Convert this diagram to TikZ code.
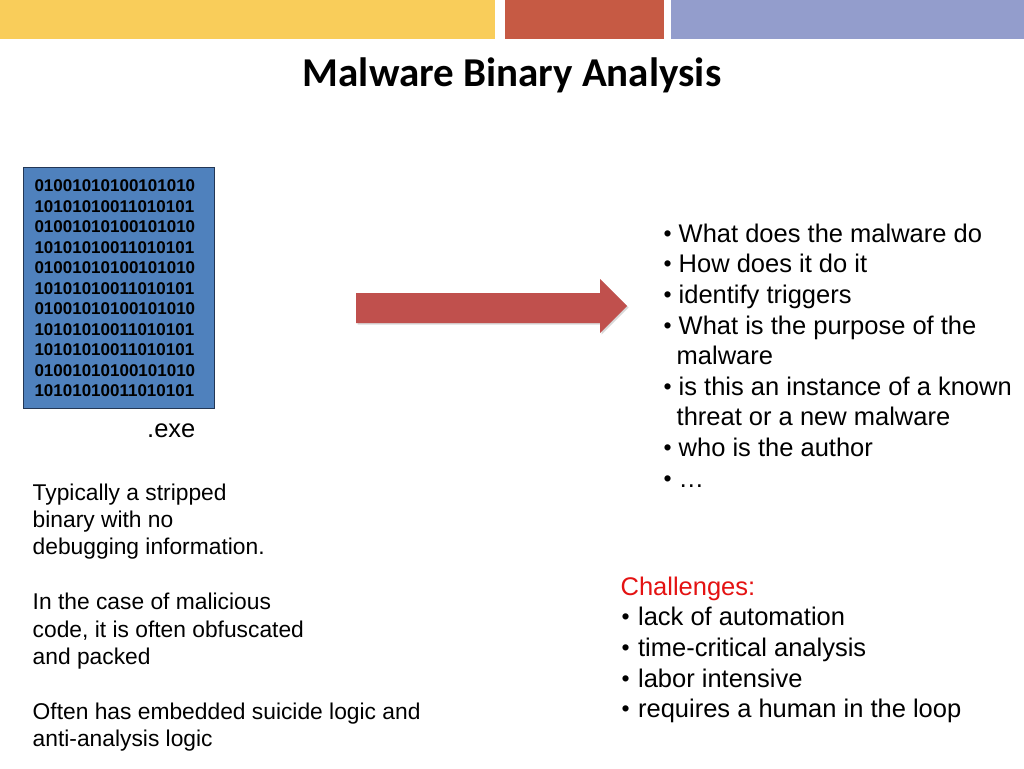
\documentclass[tikz,border=0pt]{standalone}
\usepackage{fontspec}
\usepackage{graphicx}
\setmainfont{Liberation Sans}
\newfontfamily\titlefont{Carlito}
\usetikzlibrary{shadows}
\definecolor{baryellow}{RGB}{249,205,90}
\definecolor{barred}{RGB}{198,90,68}
\definecolor{barblue}{RGB}{147,157,204}
\definecolor{binfill}{RGB}{79,129,189}
\definecolor{binborder}{RGB}{35,55,85}
\definecolor{arrowred}{RGB}{192,80,77}
\definecolor{chalred}{RGB}{228,18,18}
\newcommand{\bul}[1][15pt]{\makebox[#1][l]{\raisebox{1pt}{\scalebox{0.9}{•}}}}
\begin{document}
\begin{tikzpicture}[x=1pt,y=-1pt,
  txt/.style={inner sep=0pt, align=left, anchor=north west},
  bigfont/.style={font=\fontsize{25.5}{30.6}\selectfont},
  midfont/.style={font=\fontsize{22.8}{27.4}\selectfont},
  bitfont/.style={font=\bfseries\fontsize{17}{20.5}\selectfont},
  binbox/.style={draw=binborder, line width=1pt, fill=binfill, inner sep=0pt, anchor=north west},
  bigarrow/.style={fill=arrowred, drop shadow={opacity=0.3, shadow xshift=1.5pt, shadow yshift=-1.5pt}}]
\useasboundingbox (0,0) rectangle (1024,768);
\fill[white] (0,0) rectangle (1024,768);
% top bars
\fill[baryellow] (0,0) rectangle (495,39);
\fill[barred] (505,0) rectangle (664,39);
\fill[barblue] (671,0) rectangle (1024,39);
% title
\node[inner sep=0pt, anchor=base, font=\titlefont\bfseries\fontsize{41}{49}\selectfont] (title) at (512,86) {Malware Binary Analysis};
% binary box
\node[binbox, minimum width=191pt, minimum height=241pt] (bin) at (23,167) {};
\node[txt, bitfont] (bits) at (34.3,177.4) {\strut 01001010100101010\\\strut 10101010011010101\\\strut 01001010100101010\\\strut 10101010011010101\\\strut 01001010100101010\\\strut 10101010011010101\\\strut 01001010100101010\\\strut 10101010011010101\\\strut 10101010011010101\\\strut 01001010100101010\\\strut 10101010011010101};
\node[inner sep=0pt, anchor=base west, bigfont] (exe) at (147,437) {.exe};
% arrow
\path[bigarrow] (356,293) -- (600,293) -- (600,279) -- (627,306) -- (600,333) -- (600,323) -- (356,323) -- cycle;
% questions
\node[txt, bigfont] (questions) at (663.5,220.6) {\strut\bul What does the malware do\\\strut\bul How does it do it\\\strut\bul identify triggers\\\strut\bul What is the purpose of the\\\strut\hspace*{13pt}malware\\\strut\bul is this an instance of a known\\\strut\hspace*{13pt}threat or a new malware\\\strut\bul who is the author\\\strut\bul …};
% left notes
\node[txt, midfont] (notes) at (32.5,480.8) {\strut Typically a stripped\\\strut binary with no\\\strut debugging information.\\\strut\\\strut In the case of malicious\\\strut code, it is often obfuscated\\\strut and packed\\\strut\\\strut Often has embedded suicide logic and\\\strut anti-analysis logic};
% challenges
\node[txt, bigfont] (challenges) at (620.4,573.6) {\strut\textcolor{chalred}{Challenges:}\\\strut\hspace*{1pt}\bul[16.5pt]lack of automation\\\strut\hspace*{1pt}\bul[16.5pt]time-critical analysis\\\strut\hspace*{1pt}\bul[16.5pt]labor intensive\\\strut\hspace*{1pt}\bul[16.5pt]requires a human in the loop};
\end{tikzpicture}
\end{document}
